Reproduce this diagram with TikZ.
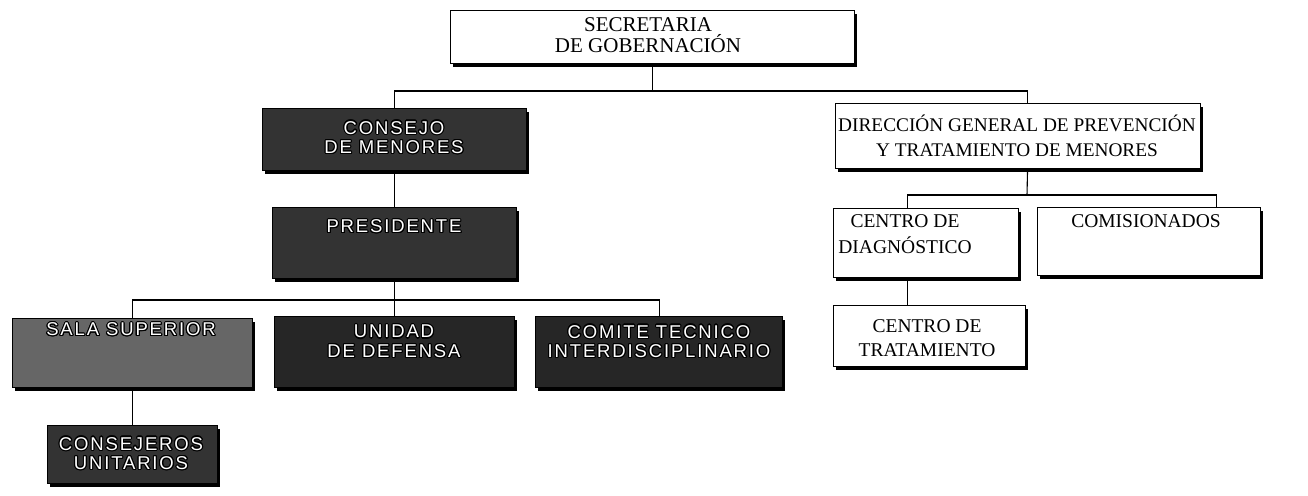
\documentclass[tikz,border=0pt]{standalone}
\usepackage{fontspec}
\setmainfont{Liberation Serif}
\newfontfamily\boxsans[LetterSpace=10]{Liberation Sans}
\usepackage[copies]{contour}
\contourlength{1.1pt}
\usetikzlibrary{shadows}
\newcommand{\ot}[1]{\contour{black}{#1}}
\begin{document}
\begin{tikzpicture}[x=1pt,y=-1pt,
  shad/.style={drop shadow={shadow xshift=2.5pt,shadow yshift=-3pt,opacity=1,fill=black}},
  wbox/.style={draw=black,line width=1.1pt,fill=white,inner sep=0pt,anchor=north west,shad},
  dbox/.style={draw=black,line width=1.3pt,fill=black!80,inner sep=0pt,anchor=north west,shad},
  wtxt/.style={font=\fontsize{19.5}{24}\selectfont,align=center,inner sep=0pt},
  dtxt/.style={font=\boxsans\fontsize{18.5}{19.5}\selectfont,text=white,align=center,inner sep=0pt},
  conn/.style={line width=1.1pt}]
\useasboundingbox (0,0) rectangle (1308,495);
\fill[white] (0,0) rectangle (1308,495);

% white boxes
\node[wbox,minimum width=404pt,minimum height=53pt] (sec) at (450,10) {};
\node[wtxt,font=\fontsize{21}{21}\selectfont] (sect) at (648,35) {SECRETARIA\\DE GOBERNACIÓN};

\node[wbox,minimum width=365pt,minimum height=65pt] (direc) at (835,103) {};
\node[wtxt,font=\fontsize{19.3}{25}\selectfont] (direct) at (1017,136) {DIRECCIÓN GENERAL DE PREVENCIÓN\\Y TRATAMIENTO DE MENORES};

\node[wbox,minimum width=185pt,minimum height=69pt] (cdiag) at (833,208) {};
\node[wtxt,font=\fontsize{19.5}{26}\selectfont] (cdiagt) at (905,234) {CENTRO DE\\DIAGNÓSTICO};

\node[wbox,minimum width=223pt,minimum height=68pt] (comis) at (1037,207) {};
\node[wtxt] (comist) at (1146,221) {COMISIONADOS};

\node[wbox,minimum width=192pt,minimum height=61pt] (ctrat) at (833,305) {};
\node[wtxt] (ctratt) at (927,338) {CENTRO DE\\TRATAMIENTO};

% dark boxes
\node[dbox,minimum width=264pt,minimum height=62pt] (cons) at (262,108) {};
\node[dtxt] (const) at (394,138) {\ot{CONSEJO}\\\ot{DE MENORES}};

\node[dbox,minimum width=244pt,minimum height=71pt] (pres) at (272,207) {};
\node[dtxt] (prest) at (394,227) {\ot{PRESIDENTE}};

\node[dbox,fill=black!60,minimum width=240pt,minimum height=69pt] (sala) at (12,318) {};
\node[dtxt] (salat) at (131,330) {\ot{SALA SUPERIOR}};

\node[dbox,fill=black!85,minimum width=240pt,minimum height=71pt] (unid) at (274,316) {};
\node[dtxt] (unidt) at (394,342) {\ot{UNIDAD}\\\ot{DE DEFENSA}};

\node[dbox,fill=black!85,minimum width=247pt,minimum height=71pt] (comi) at (535,316) {};
\node[dtxt] (comit) at (659,342) {\ot{COMITE TECNICO}\\\ot{INTERDISCIPLINARIO}};

\node[dbox,minimum width=170pt,minimum height=58pt] (conseq) at (47,425) {};
\node[dtxt] (conseqt) at (131,454) {\ot{CONSEJEROS}\\\ot{UNITARIOS}};

% connectors
\coordinate (b1) at (652,91);
\draw[conn] (sec.south) -- (sec.south |- b1);
\draw[conn] (cons.north) |- (b1) -| ([xshift=9.5pt]direc.north);
\draw[conn] (cons.south) -- (pres.north);
\coordinate (b2) at (394,300);
\draw[conn] (pres.south) -- (unid.north);
\draw[conn] (sala.north) |- (b2) -| (comi.north);
\draw[conn] (sala.south) -- (conseq.north);
\coordinate (b3) at (1027,195);
\draw[conn] ([xshift=9.5pt]direc.south) -- (b3);
\draw[conn] ([xshift=-18.5pt]cdiag.north) |- (b3) -| ([xshift=67pt]comis.north);
\draw[conn] ([xshift=-18.5pt]cdiag.south) -- ([xshift=-18.5pt]cdiag.south |- ctrat.north);
\end{tikzpicture}
\end{document}
